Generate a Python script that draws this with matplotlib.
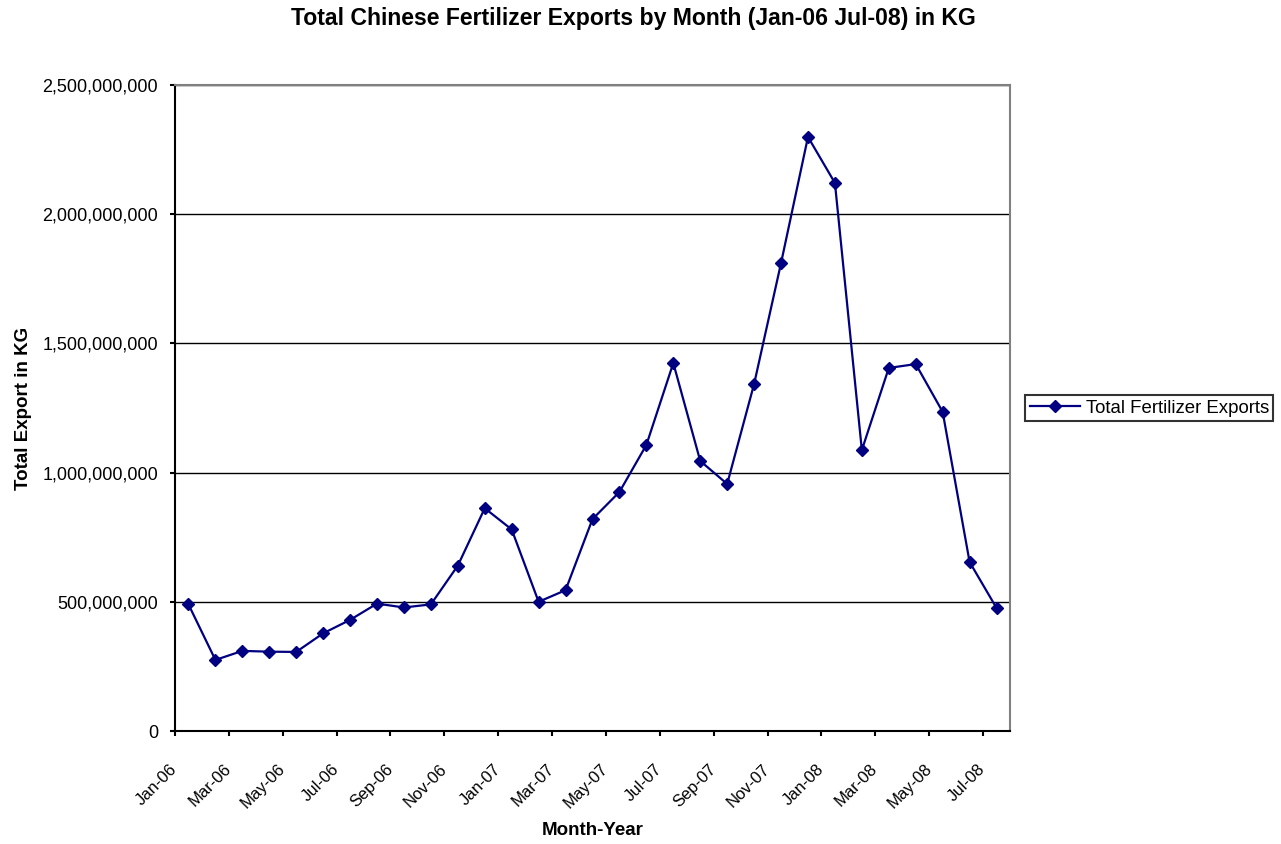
import matplotlib
matplotlib.use("Agg")
import matplotlib.pyplot as plt
import matplotlib.ticker as mticker
import numpy as np

plt.rcParams['font.family'] = ['Liberation Sans', 'DejaVu Sans']

# monthly totals, Jan-06 .. Jul-08 (kg)
months = ['Jan-06', 'Feb-06', 'Mar-06', 'Apr-06', 'May-06', 'Jun-06', 'Jul-06', 'Aug-06',
          'Sep-06', 'Oct-06', 'Nov-06', 'Dec-06', 'Jan-07', 'Feb-07', 'Mar-07', 'Apr-07',
          'May-07', 'Jun-07', 'Jul-07', 'Aug-07', 'Sep-07', 'Oct-07', 'Nov-07', 'Dec-07',
          'Jan-08', 'Feb-08', 'Mar-08', 'Apr-08', 'May-08', 'Jun-08', 'Jul-08']
exports = [490e6, 275e6, 310e6, 307e6, 306e6, 378e6, 430e6, 493e6,
           478e6, 490e6, 640e6, 862e6, 780e6, 500e6, 545e6, 820e6,
           925e6, 1107e6, 1424e6, 1045e6, 956e6, 1343e6, 1811e6, 2299e6,
           2121e6, 1087e6, 1405e6, 1420e6, 1235e6, 654e6, 476e6]

x = np.arange(len(months))

fig = plt.figure(figsize=(12.81, 8.44), dpi=100)
ax = fig.add_axes([175/1281, 1-731/844, (1010-175)/1281, (731-85)/844])

ax.plot(x, exports, color='#000080', lw=1.6, marker='D', markersize=6.5,
        label='Total Fertilizer Exports')

ax.set_xlim(-0.5, len(months) - 0.5)
ax.set_ylim(0, 2.5e9)

# category boundaries every two months, label sits on the boundary
tick_pos = np.arange(-0.5, len(months) - 0.5, 2)
ax.set_xticks(tick_pos)
ax.set_xticklabels(months[::2], rotation=45, ha='right', va='center',
                   rotation_mode='anchor', fontsize=12)
ax.tick_params(axis='x', direction='out', length=3.6, width=1.5, pad=22)

ax.set_yticks(np.arange(0, 2.5e9 + 1, 5e8))
ax.yaxis.set_major_formatter(mticker.FuncFormatter(lambda v, p: f'{int(v):,}'))
ax.tick_params(axis='y', direction='out', length=3.6, width=1.5, labelsize=13, pad=8.6)

ax.grid(axis='y', color='black', lw=1)
ax.set_axisbelow(True)

ax.spines['left'].set_linewidth(1.5)
ax.spines['bottom'].set_linewidth(1.5)
for s in ('top', 'right'):
    ax.spines[s].set_color('#808080')
    ax.spines[s].set_linewidth(1.5)

ax.set_xlabel('Month-Year', fontsize=13.5, fontweight='bold', labelpad=8)
ax.set_ylabel('Total Export in KG', fontsize=13.5, fontweight='bold', labelpad=7.5)
fig.text(633/1281, 1 - 19/844,
         'Total Chinese Fertilizer Exports by Month (Jan-06 Jul-08) in KG',
         fontsize=16.6, fontweight='bold', ha='center', va='center')

leg = ax.legend(loc='center left', bbox_to_anchor=(1.018, 0.5), fontsize=13.4,
                frameon=True, fancybox=False, edgecolor='black', borderpad=0.25,
                handlelength=2.7, handletextpad=0.3, borderaxespad=0)
leg.get_frame().set_linewidth(1.5)

fig.savefig('out.png', dpi=100, facecolor='white')
